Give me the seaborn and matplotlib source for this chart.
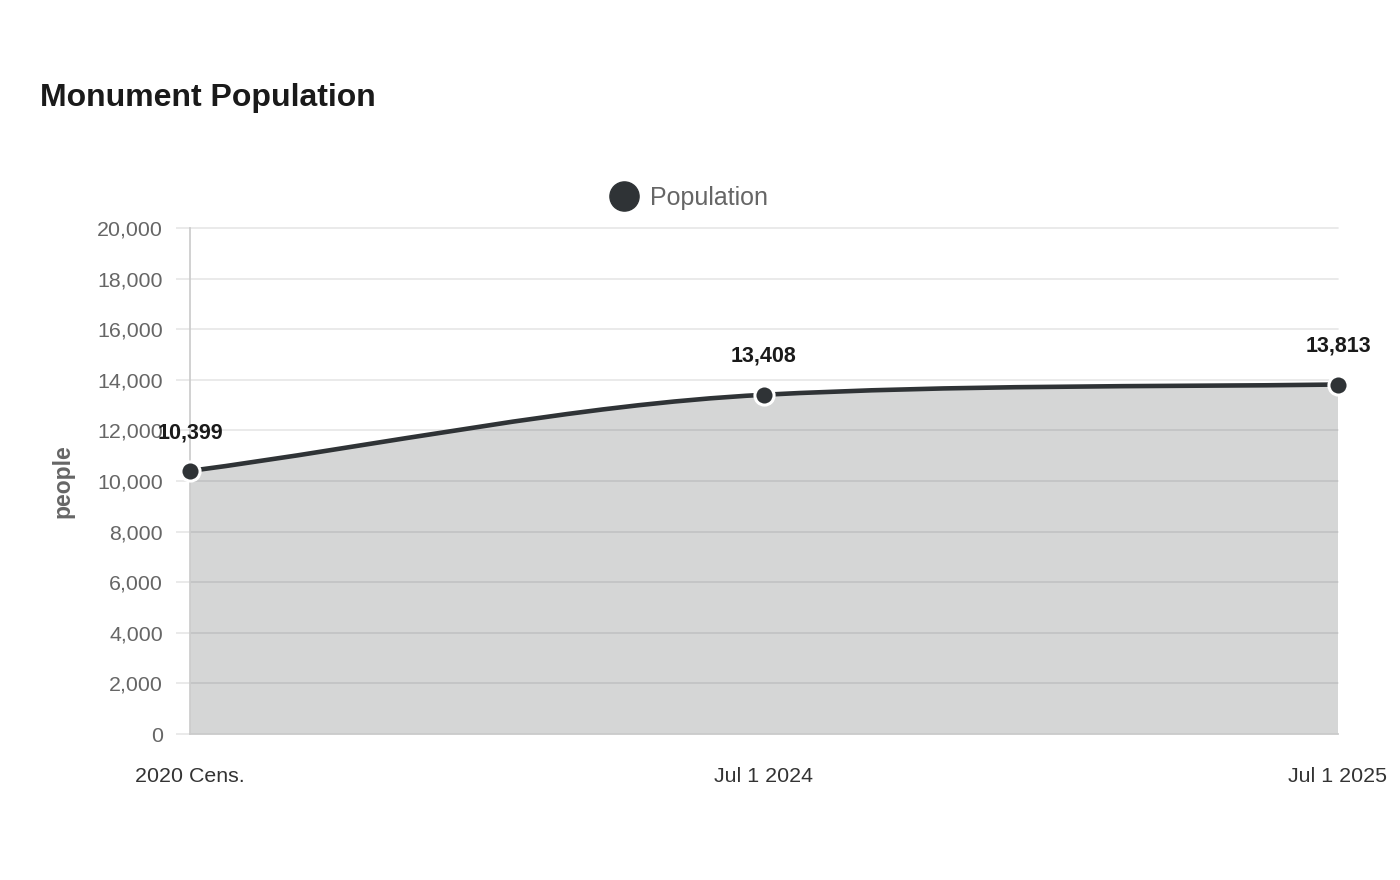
import numpy as np
import pandas as pd
import matplotlib
matplotlib.use("Agg")
import matplotlib.pyplot as plt
from matplotlib.path import Path
from matplotlib.patches import PathPatch
from matplotlib.lines import Line2D
from matplotlib.ticker import FuncFormatter, MultipleLocator
import seaborn as sns

# chart data
periods = ["2020 Cens.", "Jul 1 2024", "Jul 1 2025"]
population = [10399, 13408, 13813]

LINE = "#2f3336"

sns.set_theme(style="white")
plt.rcParams['font.family'] = ['Liberation Sans', 'DejaVu Sans']

df = pd.DataFrame({"pos": np.arange(len(periods)), "people": population})

fig = plt.figure(figsize=(14, 8.8), dpi=100)
ax = fig.add_axes([190 / 1400, 1 - 734 / 880, (1338 - 190) / 1400, (734 - 228) / 880])


# monotone cubic curve (Fritsch-Carlson), as bezier control points
def monotone_path(xs, ys):
    xs = np.asarray(xs, float)
    ys = np.asarray(ys, float)
    n = len(xs)
    delta = np.diff(ys) / np.diff(xs)
    m = np.zeros(n)
    m[0] = delta[0]
    m[-1] = delta[-1]
    for i in range(1, n - 1):
        if delta[i - 1] * delta[i] <= 0:
            m[i] = 0
        else:
            m[i] = (delta[i - 1] + delta[i]) / 2
    for i in range(n - 1):
        if delta[i] == 0:
            m[i] = m[i + 1] = 0
            continue
        a = m[i] / delta[i]
        b = m[i + 1] / delta[i]
        sq = a * a + b * b
        if sq > 9:
            tau = 3 / np.sqrt(sq)
            m[i] = tau * a * delta[i]
            m[i + 1] = tau * b * delta[i]
    verts = [(xs[0], ys[0])]
    codes = [Path.MOVETO]
    for i in range(n - 1):
        dx = (xs[i + 1] - xs[i]) / 3
        verts += [(xs[i] + dx, ys[i] + dx * m[i]),
                  (xs[i + 1] - dx, ys[i + 1] - dx * m[i + 1]),
                  (xs[i + 1], ys[i + 1])]
        codes += [Path.CURVE4] * 3
    return verts, codes


verts, codes = monotone_path(df["pos"], df["people"])

# filled area under the curve
fill_verts = list(verts) + [(df["pos"].iloc[-1], 0), (df["pos"].iloc[0], 0), verts[0]]
fill_codes = list(codes) + [Path.LINETO, Path.LINETO, Path.CLOSEPOLY]
ax.add_patch(PathPatch(Path(fill_verts, fill_codes), facecolor=LINE, alpha=0.2,
                       edgecolor="none", zorder=2))
ax.add_patch(PathPatch(Path(verts, codes), facecolor="none", edgecolor=LINE,
                       lw=3.3, zorder=3, capstyle="round"))

sns.scatterplot(data=df, x="pos", y="people", ax=ax, s=190, color=LINE,
                edgecolor="white", linewidth=2.2, zorder=4, clip_on=False, legend=False)

for x, y in zip(df["pos"], df["people"]):
    ax.annotate(f"{y:,}", (x, y), xytext=(0, 20), textcoords="offset points",
                ha="center", va="bottom", fontsize=15.5, fontweight="bold",
                color="#1a1a1a", zorder=5)

ax.set_xlim(0, len(periods) - 1)
ax.set_ylim(0, 20000)
ax.yaxis.set_major_locator(MultipleLocator(2000))
ax.yaxis.set_major_formatter(FuncFormatter(lambda v, p: f"{int(v):,}"))
ax.set_xticks(df["pos"])
ax.set_xticklabels(periods)
ax.grid(axis="y", color="#e6e6e6", lw=1.2, zorder=0)
for gl in ax.get_ygridlines():
    gl.set_clip_on(False)
ax.set_axisbelow(True)
ax.tick_params(axis="y", length=10, width=1.2, color="#e6e6e6", pad=9.5,
               labelsize=15.4, labelcolor="#666666", left=True)
ax.tick_params(axis="x", length=0, pad=24, labelsize=15.4, labelcolor="#333333")
for s in ["top", "right"]:
    ax.spines[s].set_visible(False)
ax.spines["left"].set_color("#cccccc")
ax.spines["bottom"].set_color("#cccccc")
ax.set_xlabel("")
ax.set_ylabel("people", fontsize=16.5, fontweight="bold", color="#666666")
ax.yaxis.set_label_coords(-0.101, 0.5)

fig.text(40 / 1400, 1 - 98 / 880, "Monument Population", fontsize=23,
         fontweight="bold", color="#1a1a1a", va="center", ha="left")

handle = Line2D([], [], marker="o", ls="none", markersize=21, color=LINE,
                markeredgecolor=LINE)
fig.legend([handle], ["Population"], loc="center", bbox_to_anchor=(690 / 1400, 1 - 198 / 880),
           frameon=False, fontsize=18, labelcolor="#666666", handletextpad=0.55,
           handlelength=1.0)

fig.savefig("out.png", dpi=100)
